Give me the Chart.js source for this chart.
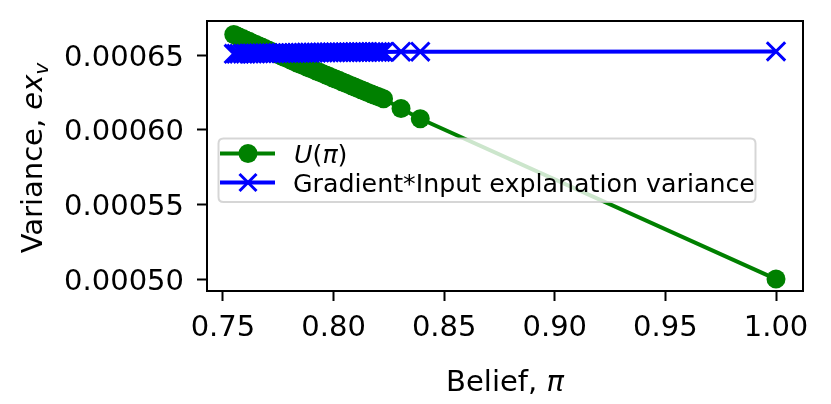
<!DOCTYPE html>
<html>
<head>
<meta charset="utf-8">
<script src="https://cdn.jsdelivr.net/npm/chart.js@4/dist/chart.umd.min.js"></script>
<style>
html,body{margin:0;padding:0;background:#fff;}
#wrap{width:831px;height:404px;}
</style>
</head>
<body>
<div id="wrap"><canvas id="c" width="831" height="404"></canvas></div>
<script>
// ---- data ----
const belief = [0.7549, 0.7561, 0.7574, 0.7590, 0.7603, 0.7618, 0.7632, 0.7647, 0.7661, 0.7676,
                0.7690, 0.7705, 0.7719, 0.7734, 0.7748, 0.7763, 0.7777, 0.7792, 0.7806, 0.7821,
                0.7835, 0.7850, 0.7864, 0.7879, 0.7893, 0.7908, 0.7922, 0.7937, 0.7951, 0.7966,
                0.7980, 0.7995, 0.8009, 0.8024, 0.8038, 0.8053, 0.8067, 0.8082, 0.8096, 0.8111,
                0.8125, 0.8140, 0.8154, 0.8169, 0.8183, 0.8198, 0.8212, 0.8226, 0.8305, 0.8392, 1.0];
const uPi = [0.0006640, 0.0006631, 0.0006622, 0.0006612, 0.0006603, 0.0006594, 0.0006583, 0.0006574, 0.0006564, 0.0006555,
             0.0006545, 0.0006535, 0.0006526, 0.0006516, 0.0006506, 0.0006497, 0.0006487, 0.0006478, 0.0006468, 0.0006459,
             0.0006449, 0.0006440, 0.0006431, 0.0006422, 0.0006413, 0.0006404, 0.0006395, 0.0006386, 0.0006377, 0.0006368,
             0.0006359, 0.0006350, 0.0006341, 0.0006332, 0.0006323, 0.0006314, 0.0006305, 0.0006296, 0.0006287, 0.0006278,
             0.0006269, 0.0006260, 0.0006251, 0.0006242, 0.0006234, 0.0006225, 0.0006217, 0.0006209, 0.0006143, 0.0006075, 0.0005000];
const gradInputVar = [0.0006510, 0.0006510, 0.0006511, 0.0006511, 0.0006511, 0.0006512, 0.0006512, 0.0006512, 0.0006513, 0.0006513,
                      0.0006513, 0.0006514, 0.0006514, 0.0006514, 0.0006515, 0.0006515, 0.0006515, 0.0006516, 0.0006516, 0.0006516,
                      0.0006517, 0.0006517, 0.0006517, 0.0006518, 0.0006518, 0.0006518, 0.0006518, 0.0006519, 0.0006519, 0.0006519,
                      0.0006520, 0.0006520, 0.0006520, 0.0006520, 0.0006521, 0.0006521, 0.0006521, 0.0006521, 0.0006522, 0.0006522,
                      0.0006522, 0.0006522, 0.0006522, 0.0006523, 0.0006523, 0.0006523, 0.0006523, 0.0006523, 0.0006524, 0.0006524, 0.0006526];
const xTicks = [0.75, 0.80, 0.85, 0.90, 0.95, 1.00];
const yTicks = [0.00050, 0.00055, 0.00060, 0.00065];
const seriesNames = ['U(π)', 'Gradient*Input explanation variance'];

const GREEN = '#008000', BLUE = '#0000ff';
const FONT = 'DejaVu Sans';
const TICK_FS = 29, TITLE_FS = 29, LEG_FS = 25.3;

function pts(xs, ys){ return xs.map((x,i)=>({x:x, y:ys[i]})); }

// draw mixed upright/italic runs; returns width
function drawRuns(ctx, runs, x, y, size, measureOnly){
  let cx = x;
  for (const r of runs){
    const s = r.sub ? size*0.7 : size;
    ctx.font = (r.it ? 'oblique ' : '') + s + 'px "' + FONT + '"';
    if (!measureOnly) ctx.fillText(r.t, cx, y + (r.sub ? size*0.22 : 0));
    cx += ctx.measureText(r.t).width;
  }
  return cx - x;
}

const decor = {
  id:'decor',
  afterDraw(chart){
    const ctx = chart.ctx, a = chart.chartArea;
    const xs = chart.scales.x, ys = chart.scales.y;
    ctx.save();
    // axes frame
    ctx.strokeStyle = '#000'; ctx.lineWidth = 2;
    ctx.strokeRect(a.left, a.top, a.right - a.left, a.bottom - a.top);

    // tick labels
    ctx.fillStyle = '#000'; ctx.textBaseline = 'alphabetic';
    ctx.font = TICK_FS + 'px "' + FONT + '"';
    ctx.textAlign = 'right';
    yTicks.forEach(v => ctx.fillText(v.toFixed(5), 184, ys.getPixelForValue(v) + TICK_FS*0.3645));
    ctx.textAlign = 'center';
    xTicks.forEach(v => ctx.fillText(v.toFixed(2), xs.getPixelForValue(v), 335.5));
    ctx.textAlign = 'left';

    // legend
    const bx = 218.5, by = 138.5, bw = 537, bh = 63.5, rr = 5;
    ctx.beginPath();
    ctx.moveTo(bx+rr, by); ctx.lineTo(bx+bw-rr, by); ctx.quadraticCurveTo(bx+bw, by, bx+bw, by+rr);
    ctx.lineTo(bx+bw, by+bh-rr); ctx.quadraticCurveTo(bx+bw, by+bh, bx+bw-rr, by+bh);
    ctx.lineTo(bx+rr, by+bh); ctx.quadraticCurveTo(bx, by+bh, bx, by+bh-rr);
    ctx.lineTo(bx, by+rr); ctx.quadraticCurveTo(bx, by, bx+rr, by); ctx.closePath();
    ctx.fillStyle = 'rgba(255,255,255,0.8)'; ctx.fill();
    ctx.strokeStyle = 'rgba(204,204,204,0.8)'; ctx.lineWidth = 2; ctx.stroke();

    const r1 = 153.5, r2 = 182.5, lx0 = 220, lx1 = 275, mx = 248;
    ctx.lineWidth = 4;
    ctx.strokeStyle = GREEN; ctx.beginPath(); ctx.moveTo(lx0, r1); ctx.lineTo(lx1, r1); ctx.stroke();
    ctx.fillStyle = GREEN; ctx.beginPath(); ctx.arc(mx, r1, 9.5, 0, Math.PI*2); ctx.fill();
    ctx.strokeStyle = BLUE; ctx.beginPath(); ctx.moveTo(lx0, r2); ctx.lineTo(lx1, r2); ctx.stroke();
    ctx.lineWidth = 3; const d = 8.5;
    ctx.beginPath(); ctx.moveTo(mx-d, r2-d); ctx.lineTo(mx+d, r2+d); ctx.moveTo(mx-d, r2+d); ctx.lineTo(mx+d, r2-d); ctx.stroke();

    ctx.fillStyle = '#000';
    drawRuns(ctx, [{t:'U',it:true},{t:'('},{t:'π',it:true},{t:')'}], 294, r1+9, LEG_FS);
    drawRuns(ctx, [{t:seriesNames[1]}], 293, r2+9, LEG_FS);

    // x title
    const xr = [{t:'Belief, '},{t:'π',it:true}];
    const xw = drawRuns(ctx, xr, 0, 0, TITLE_FS, true);
    drawRuns(ctx, xr, (a.left + a.right)/2 - xw/2, 390.5, TITLE_FS);

    // y title (rotated)
    const yr = [{t:'Variance, '},{t:'ex',it:true},{t:'v',it:true,sub:true}];
    const yw = drawRuns(ctx, yr, 0, 0, TITLE_FS, true);
    ctx.translate(42, (a.top + a.bottom)/2 + 2);
    ctx.rotate(-Math.PI/2);
    drawRuns(ctx, yr, -yw/2, 0, TITLE_FS);
    ctx.restore();
  }
};

new Chart(document.getElementById('c'), {
  type: 'line',
  data: {
    datasets: [
      { label: seriesNames[0], data: pts(belief, uPi), borderColor: GREEN, backgroundColor: GREEN,
        borderWidth: 4, pointStyle: 'circle', pointRadius: 9.5, pointBorderWidth: 0,
        pointBackgroundColor: GREEN, tension: 0, order: 2 },
      { label: seriesNames[1], data: pts(belief, gradInputVar), borderColor: BLUE, backgroundColor: BLUE,
        borderWidth: 4, pointStyle: 'crossRot', pointRadius: 13, pointBorderWidth: 3,
        pointBorderColor: BLUE, tension: 0, order: 1 }
    ]
  },
  options: {
    responsive: false, animation: false, devicePixelRatio: 1,
    layout: { padding: { top: 21, right: 28, left: 0, bottom: 0 } },
    plugins: { legend: { display: false }, tooltip: { enabled: false } },
    scales: {
      x: {
        type: 'linear', min: 0.7428, max: 1.0122,
        afterFit(s){ s.height = 113; s.paddingLeft = 0; s.paddingRight = 0; },
        afterBuildTicks(s){ s.ticks = xTicks.map(v=>({value:v})); },
        ticks: { display: false },
        grid: { drawOnChartArea: false, drawTicks: true, tickLength: 10, tickWidth: 2, tickColor: '#000' },
        border: { display: false }
      },
      y: {
        type: 'linear', min: 0.000492, max: 0.000673,
        afterFit(s){ s.width = 207; s.paddingTop = 0; s.paddingBottom = 0; },
        afterBuildTicks(s){ s.ticks = yTicks.map(v=>({value:v})); },
        ticks: { display: false },
        grid: { drawOnChartArea: false, drawTicks: true, tickLength: 10, tickWidth: 2, tickColor: '#000' },
        border: { display: false }
      }
    }
  },
  plugins: [decor]
});
</script>
</body>
</html>
